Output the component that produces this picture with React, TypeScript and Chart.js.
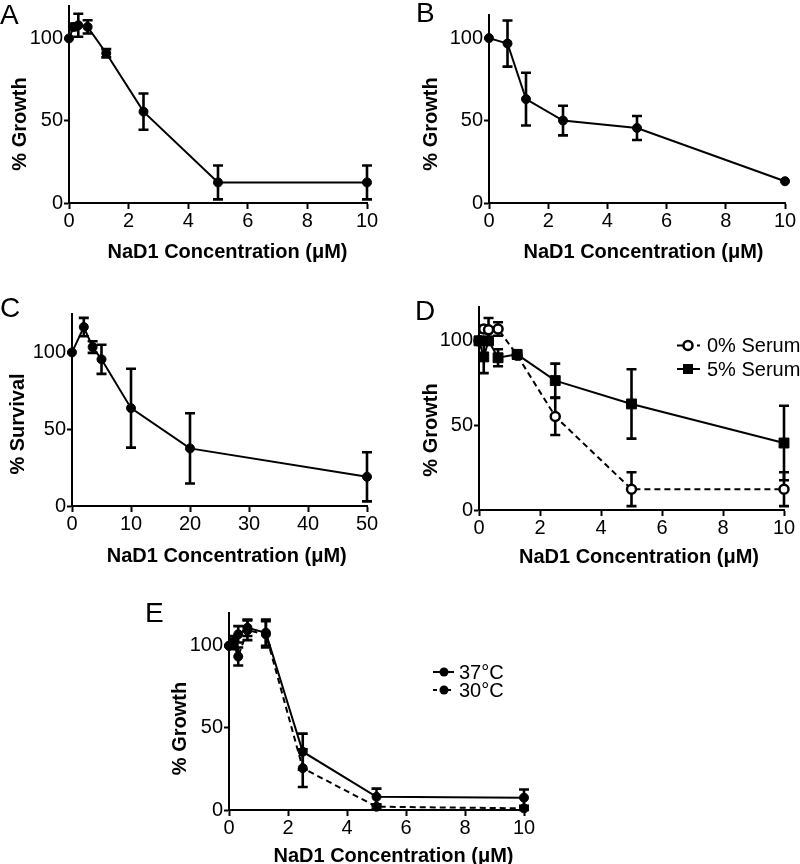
import React, { useEffect, useRef } from "react";
import { Chart, registerables } from "chart.js";

Chart.register(...registerables);

const FONT = "'Liberation Sans', Arial, Helvetica, sans-serif";

// ---------- Data ----------
// Panel A
const concA = [0, 0.156, 0.3125, 0.625, 1.25, 2.5, 5, 10];
const growthA = [100, 107, 108, 107, 91, 55.5, 12.5, 12.5];
const errA = [0, 2, 7, 4, 2.5, 11, 10.3, 10.3];

// Panel B
const concB = [0, 0.625, 1.25, 2.5, 5, 10];
const growthB = [100, 96.7, 63, 50, 45.5, 13.2];
const errB = [0, 14, 16, 9, 7.3, 0];

// Panel C
const concC = [0, 2, 3.5, 5, 10, 20, 50];
const survivalC = [100, 116.5, 103.5, 95.5, 63.7, 37.5, 19];
const errC = [0, 6, 3.8, 9.5, 25.7, 22.9, 16];

// Panel D
const concD = [0, 0.156, 0.3125, 0.625, 1.25, 2.5, 5, 10];
const serum0 = [100, 107, 106.5, 107, 91.5, 55.3, 12.3, 12.3];
const serum0Err = [0, 2, 7, 4, 2, 11, 10, 10];
const serum5 = [100, 90.5, 100, 90, 92, 76.5, 62.7, 39.6];
const serum5Err = [0, 9.6, 2, 5, 2, 10, 20.5, 22];

// Panel E
const concE = [0, 0.156, 0.3125, 0.625, 1.25, 2.5, 5, 10];
const growth37 = [100, 103, 107, 111, 108, 35.5, 8, 7.5];
const err37 = [0, 3, 5, 5, 8, 11, 5, 5];
const growth30 = [100, 101, 93.5, 109.5, 107, 25.5, 2, 1];
const err30 = [0, 3, 5.5, 6, 8, 11.5, 1.5, 1];

// Ticks
const xTicks10 = [0, 2, 4, 6, 8, 10];
const xTicks50 = [0, 10, 20, 30, 40, 50];
const yTicks = [0, 50, 100];

const xTitle = "NaD1 Concentration (\u03BCM)";
const yGrowth = "% Growth";
const ySurvival = "% Survival";
const legendD = ["0% Serum", "5% Serum"];
const legendE = ["37\u00B0C", "30\u00B0C"];

// ---------- Helpers ----------
type TextItem = { text: string; x: number; y: number; rotate?: boolean };
type LegendItem = {
  label: string;
  x1: number;
  x2: number;
  mx: number;
  y: number;
  tx: number;
  dash: number[];
  marker: "circle" | "open" | "square";
};

function drawMarker(ctx: CanvasRenderingContext2D, kind: string, x: number, y: number) {
  ctx.save();
  ctx.setLineDash([]);
  if (kind === "square") {
    ctx.fillStyle = "#000";
    ctx.fillRect(x - 5, y - 5, 10, 10);
  } else if (kind === "open") {
    ctx.beginPath();
    ctx.arc(x, y, 4.5, 0, Math.PI * 2);
    ctx.fillStyle = "#fff";
    ctx.fill();
    ctx.lineWidth = 2.5;
    ctx.strokeStyle = "#000";
    ctx.stroke();
  } else {
    ctx.beginPath();
    ctx.arc(x, y, 4.5, 0, Math.PI * 2);
    ctx.fillStyle = "#000";
    ctx.fill();
  }
  ctx.restore();
}

function makeAnnotPlugin(texts: TextItem[], legend: LegendItem[]) {
  return {
    id: "annot",
    beforeDatasetsDraw(chart: any) {
      const ctx = chart.ctx as CanvasRenderingContext2D;
      const ys = chart.scales.y;
      chart.data.datasets.forEach((ds: any, di: number) => {
        const errs: number[] | undefined = ds.errors;
        if (!errs) return;
        const meta = chart.getDatasetMeta(di);
        ctx.save();
        ctx.strokeStyle = "#000";
        ctx.lineWidth = 2.6;
        ctx.setLineDash([]);
        meta.data.forEach((pt: any, i: number) => {
          const e = errs[i];
          if (!e) return;
          const v = ds.data[i].y;
          const yTop = ys.getPixelForValue(v + e);
          const yBot = ys.getPixelForValue(Math.max(v - e, ys.min));
          const x = pt.x;
          ctx.beginPath();
          ctx.moveTo(x, yTop);
          ctx.lineTo(x, yBot);
          ctx.moveTo(x - 5, yTop);
          ctx.lineTo(x + 5, yTop);
          ctx.moveTo(x - 5, yBot);
          ctx.lineTo(x + 5, yBot);
          ctx.stroke();
        });
        ctx.restore();
      });
    },
    afterDraw(chart: any) {
      const ctx = chart.ctx as CanvasRenderingContext2D;
      ctx.save();
      ctx.fillStyle = "#000";
      ctx.font = `bold 20px ${FONT}`;
      for (const t of texts) {
        ctx.save();
        ctx.translate(t.x, t.y);
        if (t.rotate) {
          ctx.rotate(-Math.PI / 2);
          ctx.textAlign = "center";
          ctx.textBaseline = "middle";
        } else {
          ctx.textAlign = "center";
          ctx.textBaseline = "alphabetic";
        }
        ctx.fillText(t.text, 0, 0);
        ctx.restore();
      }
      for (const l of legend) {
        ctx.save();
        ctx.strokeStyle = "#000";
        ctx.lineWidth = 2;
        ctx.setLineDash(l.dash);
        ctx.beginPath();
        ctx.moveTo(l.x1, l.y);
        ctx.lineTo(l.x2, l.y);
        ctx.stroke();
        ctx.restore();
        drawMarker(ctx, l.marker, l.mx, l.y);
        ctx.font = `20px ${FONT}`;
        ctx.textAlign = "left";
        ctx.textBaseline = "middle";
        ctx.fillStyle = "#000";
        ctx.fillText(l.label, l.tx, l.y + 1);
      }
      ctx.restore();
    },
  };
}

function series(xs: number[], ys: number[], errs: number[], style: any) {
  return {
    data: xs.map((x, i) => ({ x, y: ys[i] })),
    errors: errs,
    borderColor: "#000",
    borderWidth: 2,
    pointRadius: 4.5,
    pointHoverRadius: 4.5,
    pointBackgroundColor: "#000",
    pointBorderColor: "#000",
    pointBorderWidth: 1,
    tension: 0,
    fill: false,
    clip: false,
    ...style,
  };
}

type Area = { left: number; top: number; right: number; bottom: number };

function makeConfig(p: {
  width: number;
  height: number;
  area: Area;
  datasets: any[];
  xMax: number;
  yMax: number;
  xTicks: number[];
  texts: TextItem[];
  legend?: LegendItem[];
}) {
  const zeroPad = (s: any) => {
    s.paddingLeft = 0;
    s.paddingRight = 0;
    s.paddingTop = 0;
    s.paddingBottom = 0;
  };
  const axisCommon = {
    type: "linear",
    border: { display: true, color: "#000", width: 2 },
    grid: {
      display: true,
      drawOnChartArea: false,
      drawTicks: true,
      tickColor: "#000",
      tickWidth: 2,
    },
  };
  return {
    type: "line",
    data: { datasets: p.datasets },
    options: {
      responsive: false,
      animation: false,
      devicePixelRatio: 1,
      layout: {
        padding: { left: 0, top: p.area.top, right: p.width - p.area.right, bottom: 0 },
      },
      plugins: { legend: { display: false }, tooltip: { enabled: false } },
      scales: {
        x: {
          ...axisCommon,
          min: 0,
          max: p.xMax,
          grid: { ...axisCommon.grid, tickLength: 6 },
          ticks: {
            color: "#000",
            font: { family: FONT, size: 20 },
            padding: 0,
            maxRotation: 0,
            autoSkip: false,
          },
          afterBuildTicks: (s: any) => {
            s.ticks = p.xTicks.map((v) => ({ value: v }));
          },
          afterFit: (s: any) => {
            s.height = p.height - p.area.bottom;
            zeroPad(s);
          },
        },
        y: {
          ...axisCommon,
          min: 0,
          max: p.yMax,
          grid: { ...axisCommon.grid, tickLength: 5 },
          ticks: {
            color: "#000",
            font: { family: FONT, size: 20 },
            padding: 1,
            autoSkip: false,
          },
          afterBuildTicks: (s: any) => {
            s.ticks = yTicks.map((v) => ({ value: v }));
          },
          afterFit: (s: any) => {
            s.width = p.area.left;
            zeroPad(s);
          },
        },
      },
    },
    plugins: [makeAnnotPlugin(p.texts, p.legend || [])],
  };
}

function Panel(props: { left: number; top: number; width: number; height: number; build: () => any }) {
  const ref = useRef<HTMLCanvasElement>(null);
  useEffect(() => {
    const chart = new Chart(ref.current as HTMLCanvasElement, props.build());
    return () => chart.destroy();
  }, []);
  return (
    <div style={{ position: "absolute", left: props.left, top: props.top, width: props.width, height: props.height }}>
      <canvas
        ref={ref}
        width={props.width}
        height={props.height}
        style={{ width: props.width, height: props.height, display: "block" }}
      />
    </div>
  );
}

function Letter(props: { ch: string; left: number; baseline: number }) {
  return (
    <div
      style={{
        position: "absolute",
        left: props.left,
        top: props.baseline - 24,
        fontFamily: FONT,
        fontSize: 28,
        lineHeight: "28px",
        color: "#000",
      }}
    >
      {props.ch}
    </div>
  );
}

export default function App() {
  return (
    <div style={{ position: "absolute", left: 0, top: 0, width: 800, height: 864, background: "#fff", overflow: "hidden" }}>
      <Panel
        left={0}
        top={0}
        width={400}
        height={290}
        build={() =>
          makeConfig({
            width: 400,
            height: 290,
            area: { left: 69, top: 5, right: 367, bottom: 203 },
            datasets: [series(concA, growthA, errA, {})],
            xMax: 10,
            yMax: 120,
            xTicks: xTicks10,
            texts: [
              { text: xTitle, x: 227.5, y: 258 },
              { text: yGrowth, x: 20.5, y: 124, rotate: true },
            ],
          })
        }
      />
      <Panel
        left={400}
        top={0}
        width={400}
        height={290}
        build={() =>
          makeConfig({
            width: 400,
            height: 290,
            area: { left: 89, top: 15, right: 385, bottom: 203 },
            datasets: [series(concB, growthB, errB, {})],
            xMax: 10,
            yMax: 114,
            xTicks: xTicks10,
            texts: [
              { text: xTitle, x: 243.5, y: 258 },
              { text: yGrowth, x: 31, y: 124, rotate: true },
            ],
          })
        }
      />
      <Panel
        left={0}
        top={290}
        width={400}
        height={300}
        build={() =>
          makeConfig({
            width: 400,
            height: 300,
            area: { left: 72, top: 24, right: 367, bottom: 216 },
            datasets: [series(concC, survivalC, errC, {})],
            xMax: 50,
            yMax: 125,
            xTicks: xTicks50,
            texts: [
              { text: xTitle, x: 226.7, y: 272 },
              { text: ySurvival, x: 18.5, y: 134, rotate: true },
            ],
          })
        }
      />
      <Panel
        left={400}
        top={290}
        width={400}
        height={300}
        build={() =>
          makeConfig({
            width: 400,
            height: 300,
            area: { left: 79, top: 17, right: 384, bottom: 220 },
            datasets: [
              series(concD, serum5, serum5Err, { pointStyle: "rect", pointRadius: 7 }),
              series(concD, serum0, serum0Err, {
                borderDash: [6, 4],
                pointRadius: 4.5,
                pointBackgroundColor: "#fff",
                pointBorderWidth: 2.5,
              }),
            ],
            xMax: 10,
            yMax: 120,
            xTicks: xTicks10,
            texts: [
              { text: xTitle, x: 239, y: 273 },
              { text: yGrowth, x: 31, y: 140, rotate: true },
            ],
            legend: [
              { label: legendD[0], x1: 277, x2: 300, mx: 288, y: 55.5, tx: 307, dash: [6, 4], marker: "open" },
              { label: legendD[1], x1: 277, x2: 300, mx: 288, y: 79, tx: 307, dash: [], marker: "square" },
            ],
          })
        }
      />
      <Panel
        left={150}
        top={590}
        width={400}
        height={274}
        build={() =>
          makeConfig({
            width: 400,
            height: 274,
            area: { left: 79, top: 23, right: 374, bottom: 220 },
            datasets: [
              series(concE, growth37, err37, {}),
              series(concE, growth30, err30, { borderDash: [6, 4] }),
            ],
            xMax: 10,
            yMax: 120,
            xTicks: xTicks10,
            texts: [
              { text: xTitle, x: 243.5, y: 272 },
              { text: yGrowth, x: 30.5, y: 138.5, rotate: true },
            ],
            legend: [
              { label: legendE[0], x1: 283, x2: 304, mx: 294, y: 82, tx: 309, dash: [], marker: "circle" },
              { label: legendE[1], x1: 283, x2: 304, mx: 294, y: 100, tx: 309, dash: [4, 3], marker: "circle" },
            ],
          })
        }
      />
      <Letter ch="A" left={0} baseline={25} />
      <Letter ch="B" left={416} baseline={23} />
      <Letter ch="C" left={0} baseline={318} />
      <Letter ch="D" left={415} baseline={321} />
      <Letter ch="E" left={145} baseline={623} />
    </div>
  );
}
